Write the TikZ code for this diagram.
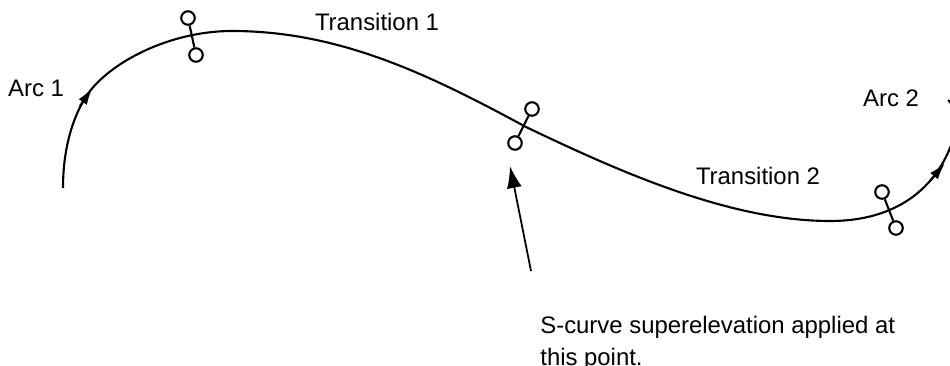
\documentclass[tikz,border=0pt]{standalone}
\usepackage{fontspec}
\setmainfont{Liberation Sans}
\usetikzlibrary{arrows.meta}
\tikzset{
	curveline/.style={line width=1.2pt},
	marker/.style={draw, circle, line width=1.2pt, fill=white, inner sep=0pt, minimum size=0.27cm},
	lbl/.style={draw=none, inner sep=0pt},
}
\begin{document}
\begin{tikzpicture}
		\useasboundingbox (0,0) rectangle (19,7.3);
		\clip (0,0) rectangle (19,7.3);
		\fontsize{13.6}{18.5}\selectfont
		
		% Curve
		\draw[curveline] (1.26,3.54) .. controls (1.26,4.3) and (1.44,4.94) .. (1.74,5.4)
			.. controls (2.2,6.06) and (3.4,6.68) .. (4.64,6.68)
			.. controls (6.8,6.68) and (8.6,5.8) .. (10.52,4.76)
			.. controls (12.4,3.86) and (14.6,2.88) .. (16.6,2.88)
			.. controls (18,2.88) and (18.7,3.6) .. (19,4.34)
			.. controls (19.2,4.8) and (19.1,5.2) .. (18.96,5.3);
		
		% Direction marks
		\coordinate (arc1a) at (1.6,5.18);
		\coordinate (arc1b) at (1.85,5.54);
		\draw[-{Latex[length=0.34cm,width=0.2cm]}, curveline] (arc1a) -- (arc1b);
		\coordinate (arc2a) at (18.6,3.68);
		\coordinate (arc2b) at (18.9,4.04);
		\draw[-{Latex[length=0.34cm,width=0.2cm]}, curveline] (arc2a) -- (arc2b);
		
		% Point 1
		\node[marker] (p1a) at (3.76,6.94) {};
		\node[marker] (p1b) at (3.92,6.2) {};
		\draw[curveline] (p1a) -- (p1b);
		
		% Point 2
		\node[marker] (p2a) at (10.64,5.12) {};
		\node[marker] (p2b) at (10.3,4.44) {};
		\draw[curveline] (p2a) -- (p2b);
		
		% Point 3
		\node[marker] (p3a) at (17.64,3.46) {};
		\node[marker] (p3b) at (17.92,2.74) {};
		\draw[curveline] (p3a) -- (p3b);
		
		\node[lbl] (arc1) at (0.72,5.54) {Arc 1};
		\node[lbl] (trans1) at (7.54,6.86) {Transition 1};
		\node[lbl] (arc2) at (17.82,5.34) {Arc 2};
		\node[lbl] (trans2) at (15.16,3.78) {Transition 2};
		\node[lbl, anchor=north west, align=left] (note) at (10.8,0.99) {S-curve superelevation applied at\\this point.};
		
		\coordinate (tail) at (10.62,1.88);
		\coordinate (head) at (10.2,3.98);
		\draw[-{Latex[length=0.44cm,width=0.3cm]}, line width=1pt] (tail) -- (head);
	\end{tikzpicture}
\end{document}
